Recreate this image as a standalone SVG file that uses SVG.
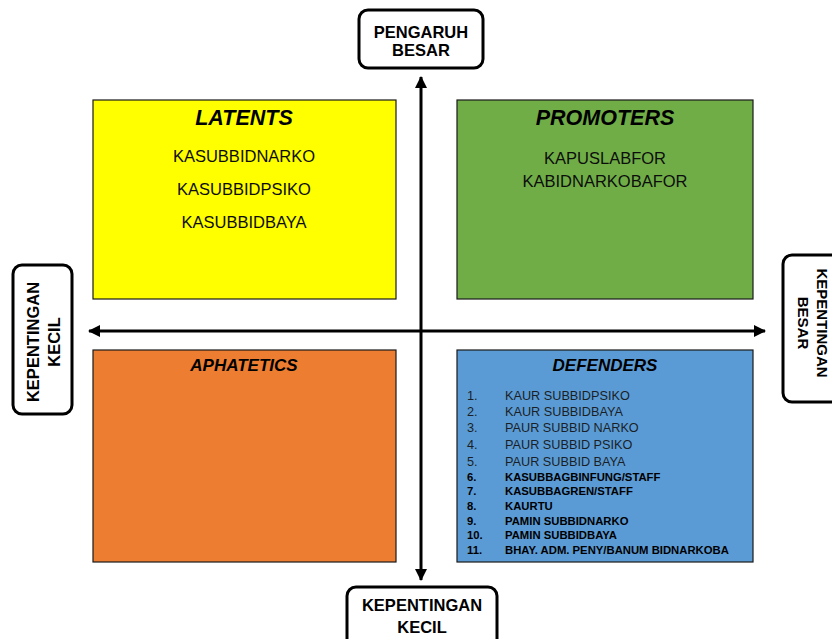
<svg xmlns="http://www.w3.org/2000/svg" width="832" height="639" viewBox="0 0 832 639">
<style>
.q{stroke:#1a1a1a;stroke-width:1.2}
.lbl{fill:#fff;stroke:#000;stroke-width:3}
.lt{font-family:"Liberation Sans",Arial,sans-serif;font-weight:bold;fill:#000;text-anchor:middle}
.ttl{font-family:"Liberation Sans",Arial,sans-serif;font-weight:bold;font-style:italic;fill:#000;text-anchor:middle}
.it{font-family:"Liberation Sans",Arial,sans-serif;fill:#0d0d0d;text-anchor:middle;font-size:16.5px}
.dr{font-family:"Liberation Sans",Arial,sans-serif;fill:#1a1f26;font-size:12.7px}
.db{font-family:"Liberation Sans",Arial,sans-serif;fill:#000;font-weight:bold;font-size:11.3px}
</style>
<defs>
<marker id="ah" viewBox="0 0 12 12" refX="11" refY="6" markerWidth="12" markerHeight="12" markerUnits="userSpaceOnUse" orient="auto-start-reverse">
<path d="M0,0 L12,6 L0,12 z" fill="#000"/>
</marker>
</defs>
<rect width="832" height="639" fill="#fff"/>

<g id="latents">
<rect class="q" x="93" y="100" width="303" height="199" fill="#FFFF00"/>
<text class="ttl" x="244" y="125" font-size="21.5">LATENTS</text>
<text class="it" x="244" y="162">KASUBBIDNARKO</text>
<text class="it" x="244" y="195">KASUBBIDPSIKO</text>
<text class="it" x="244" y="228">KASUBBIDBAYA</text>
</g>

<g id="promoters">
<rect class="q" x="457" y="100" width="296" height="199" fill="#70AD47"/>
<text class="ttl" x="605" y="125" font-size="21.5">PROMOTERS</text>
<text class="it" x="605" y="164">KAPUSLABFOR</text>
<text class="it" x="605" y="187">KABIDNARKOBAFOR</text>
</g>

<g id="aphatetics">
<rect class="q" x="93" y="350" width="303" height="212" fill="#ED7D31"/>
<text class="ttl" x="244" y="371" font-size="17">APHATETICS</text>
</g>

<g id="defenders">
<rect class="q" x="457" y="350" width="296" height="212" fill="#5B9BD5"/>
<text class="ttl" x="605" y="371" font-size="17">DEFENDERS</text>
<text class="dr" x="467" y="400">1.</text><text class="dr" x="505" y="400">KAUR SUBBIDPSIKO</text>
<text class="dr" x="467" y="416">2.</text><text class="dr" x="505" y="416">KAUR SUBBIDBAYA</text>
<text class="dr" x="467" y="432">3.</text><text class="dr" x="505" y="432">PAUR SUBBID NARKO</text>
<text class="dr" x="467" y="449">4.</text><text class="dr" x="505" y="449">PAUR SUBBID PSIKO</text>
<text class="dr" x="467" y="466">5.</text><text class="dr" x="505" y="466">PAUR SUBBID BAYA</text>
<text class="db" x="467" y="481">6.</text><text class="db" x="505" y="481">KASUBBAGBINFUNG/STAFF</text>
<text class="db" x="467" y="495">7.</text><text class="db" x="505" y="495">KASUBBAGREN/STAFF</text>
<text class="db" x="467" y="510">8.</text><text class="db" x="505" y="510">KAURTU</text>
<text class="db" x="467" y="525">9.</text><text class="db" x="505" y="525">PAMIN SUBBIDNARKO</text>
<text class="db" x="467" y="539">10.</text><text class="db" x="505" y="539">PAMIN SUBBIDBAYA</text>
<text class="db" x="467" y="554">11.</text><text class="db" x="505" y="554">BHAY. ADM. PENY/BANUM BIDNARKOBA</text>
</g>

<g id="connectors">
<line x1="421" y1="77" x2="421" y2="580" stroke="#000" stroke-width="3" marker-start="url(#ah)" marker-end="url(#ah)"/>
<line x1="89" y1="331" x2="765" y2="331" stroke="#000" stroke-width="3" marker-start="url(#ah)" marker-end="url(#ah)"/>
</g>

<g id="pengaruh-besar">
<rect class="lbl" x="359" y="10" width="124" height="58" rx="9"/>
<text class="lt" x="421" y="38" font-size="16.5">PENGARUH</text>
<text class="lt" x="421" y="56" font-size="16.5">BESAR</text>
</g>

<g id="kepentingan-kecil-left">
<rect class="lbl" x="13" y="265" width="59" height="149" rx="9"/>
<g transform="translate(42,342) rotate(-90)">
<text class="lt" x="0" y="-3" font-size="16.5">KEPENTINGAN</text>
<text class="lt" x="0" y="18" font-size="16.5">KECIL</text>
</g>
</g>

<g id="kepentingan-besar-right">
<rect class="lbl" x="783" y="255" width="70" height="147" rx="9"/>
<g transform="translate(811,323) rotate(90)">
<text class="lt" x="0" y="-6" font-size="15">KEPENTINGAN</text>
<text class="lt" x="0" y="13" font-size="15">BESAR</text>
</g>
</g>

<g id="kepentingan-kecil-bottom">
<rect class="lbl" x="347" y="587" width="150" height="62" rx="9"/>
<text class="lt" x="422" y="611" font-size="16.5">KEPENTINGAN</text>
<text class="lt" x="422" y="633" font-size="16.5">KECIL</text>
</g>
</svg>
